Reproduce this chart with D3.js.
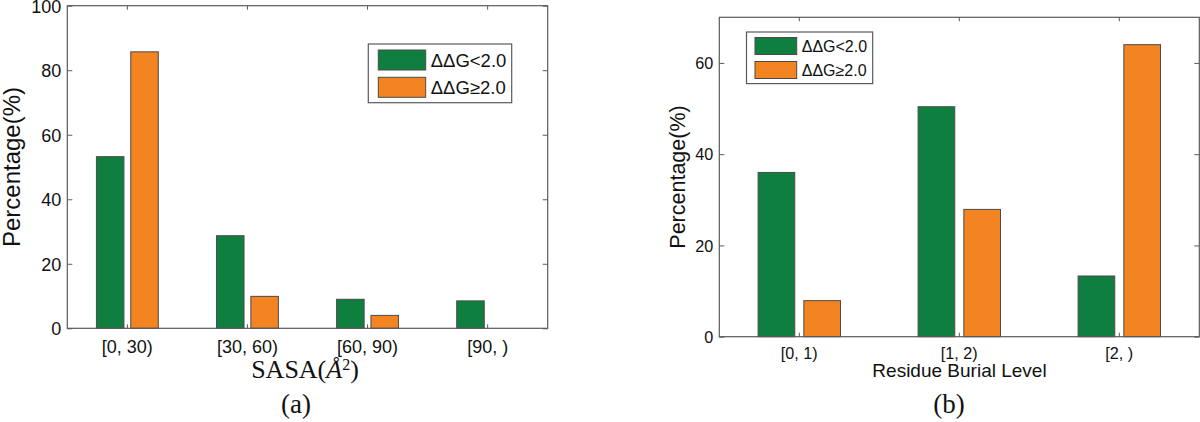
<!DOCTYPE html>
<html>
<head>
<meta charset="utf-8">
<script src="https://cdnjs.cloudflare.com/ajax/libs/d3/7.8.5/d3.min.js"></script>
<style>
  body { margin: 0; background: #fff; }
  svg { display: block; font-family: "Liberation Sans", Arial, Helvetica, sans-serif; }
  .axis path.domain { display: none; }
  .axis line { stroke: #5a5a5a; }
  .axis text { fill: #111; }
</style>
</head>
<body>
<svg id="figure"></svg>
<script>
// --- data ---
const seriesLabels = ['\u0394\u0394G<2.0', '\u0394\u0394G\u22652.0'];
const seriesColors = ['#0f7f3f', '#f48422'];

const sasaCategories = ['[0, 30)', '[30, 60)', '[60, 90)', '[90, )'];
const sasaLow = [53.2, 28.7, 9.0, 8.5];
const sasaHigh = [85.7, 9.9, 4.0, 0];
const sasaTicks = [0, 20, 40, 60, 80, 100];

const burialCategories = ['[0, 1)', '[1, 2)', '[2, )'];
const burialLow = [36.0, 50.4, 13.3];
const burialHigh = [7.9, 27.9, 64.0];
const burialTicks = [0, 20, 40, 60];

class GroupedBars {
    /**
     * Grouped bar chart, drawn like a Matlab bar() figure
     * @param {Object} _config
     * @param {Object} _data
     */
    constructor(_config, _data) {
        this.config = {
            parentElement: _config.parentElement,
            left: _config.left,
            top: _config.top,
            width: _config.width,
            height: _config.height,
            yMax: _config.yMax,
            yTicks: _config.yTicks,
            fontSize: _config.fontSize || 16,
            yLabelSize: _config.yLabelSize || 22,
            yLabelOffset: _config.yLabelOffset || 50,
            tickLabelOffset: _config.tickLabelOffset || 17,
            legend: _config.legend
        }
        this.data = _data;
        this.initVis();
    }

    initVis() {
        let vis = this;

        vis.width = vis.config.width;
        vis.height = vis.config.height;

        vis.xScale = d3.scaleBand()
            .range([0, vis.width])
            .padding(0);

        vis.yScale = d3.scaleLinear()
            .range([vis.height, 0]);

        vis.chart = d3.select(vis.config.parentElement)
            .attr('transform', `translate(${vis.config.left},${vis.config.top})`);

        // ticks point inward on all four sides, Matlab style
        vis.xAxis = d3.axisBottom(vis.xScale).tickSizeInner(-4).tickSizeOuter(0);
        vis.xAxisTop = d3.axisTop(vis.xScale).tickSizeInner(-4).tickSizeOuter(0).tickFormat('');
        vis.yAxis = d3.axisLeft(vis.yScale).tickSizeInner(-5).tickSizeOuter(0).tickPadding(6);
        vis.yAxisRight = d3.axisRight(vis.yScale).tickSizeInner(-5).tickSizeOuter(0).tickFormat('');

        vis.barsG = vis.chart.append('g');

        vis.xAxisG = vis.chart.append('g')
            .attr('class', 'axis x-axis')
            .attr('transform', `translate(0,${vis.height})`);
        vis.xAxisTopG = vis.chart.append('g').attr('class', 'axis');
        vis.yAxisG = vis.chart.append('g').attr('class', 'axis y-axis');
        vis.yAxisRightG = vis.chart.append('g')
            .attr('class', 'axis')
            .attr('transform', `translate(${vis.width},0)`);

        vis.chart.append('rect')
            .attr('width', vis.width)
            .attr('height', vis.height)
            .attr('fill', 'none')
            .attr('stroke', '#5a5a5a')
            .attr('stroke-width', 1.2);

        vis.chart.append('text')
            .attr('transform', `translate(${-vis.config.yLabelOffset},${vis.height / 2}) rotate(-90)`)
            .attr('text-anchor', 'middle')
            .attr('dominant-baseline', 'central')
            .attr('font-size', vis.config.yLabelSize)
            .attr('fill', '#111')
            .text('Percentage(%)');

        vis.updateVis();
    }

    updateVis() {
        let vis = this;

        vis.xScale.domain(vis.data.categories);
        vis.yScale.domain([0, vis.config.yMax]);
        vis.yAxis.tickValues(vis.config.yTicks);
        vis.yAxisRight.tickValues(vis.config.yTicks);

        // Matlab grouped bar geometry: bar width 0.229, offsets +-0.143 of a group slot
        vis.barWidth = 0.229 * vis.xScale.bandwidth();
        vis.barOffsets = [-0.143, 0.143].map(o => o * vis.xScale.bandwidth());

        vis.flat = [];
        vis.data.series.forEach((s, si) => {
            s.forEach((v, ci) => {
                if (v > 0) vis.flat.push({ cat: vis.data.categories[ci], value: v, series: si });
            });
        });

        vis.renderVis();
    }

    renderVis() {
        let vis = this;
        const bw = vis.xScale.bandwidth();

        vis.barsG.selectAll('.bar')
            .data(vis.flat)
            .join('rect')
            .attr('class', 'bar')
            .attr('x', d => vis.xScale(d.cat) + bw / 2 + vis.barOffsets[d.series] - vis.barWidth / 2)
            .attr('width', vis.barWidth)
            .attr('y', d => vis.yScale(d.value))
            .attr('height', d => vis.height - vis.yScale(d.value))
            .attr('fill', d => seriesColors[d.series])
            .attr('stroke', '#4a4a4a')
            .attr('stroke-width', 1);

        vis.xAxisG.call(vis.xAxis);
        vis.xAxisG.selectAll('text')
            .attr('y', vis.config.tickLabelOffset)
            .attr('dy', '0.35em')
            .attr('font-size', vis.config.fontSize);
        vis.xAxisTopG.call(vis.xAxisTop);

        vis.yAxisG.call(vis.yAxis);
        vis.yAxisG.selectAll('text')
            .attr('dy', '0.35em')
            .attr('font-size', vis.config.fontSize);
        vis.yAxisRightG.call(vis.yAxisRight);

        // legend
        const lg = vis.config.legend;
        const legend = vis.chart.append('g')
            .attr('transform', `translate(${lg.x},${lg.y})`);
        legend.append('rect')
            .attr('width', lg.w)
            .attr('height', lg.h)
            .attr('fill', '#fff')
            .attr('stroke', '#5a5a5a')
            .attr('stroke-width', 1.2);
        seriesLabels.forEach((label, i) => {
            const yy = lg.pad + i * lg.step;
            legend.append('rect')
                .attr('x', lg.swX)
                .attr('y', yy)
                .attr('width', lg.swW)
                .attr('height', lg.swH)
                .attr('fill', seriesColors[i])
                .attr('stroke', '#4a4a4a');
            legend.append('text')
                .attr('x', lg.swX + lg.swW + 5)
                .attr('y', yy + lg.swH / 2)
                .attr('dominant-baseline', 'central')
                .attr('font-size', lg.fontSize)
                .attr('fill', '#111')
                .text(label);
        });
    }
};

const svg = d3.select('#figure')
    .attr('width', 1200)
    .attr('height', 422);

svg.append('g').attr('id', 'chartA');
svg.append('g').attr('id', 'chartB');

new GroupedBars({
    parentElement: '#chartA',
    left: 67.3, top: 5.7, width: 480.4, height: 322.6,
    yMax: 100, yTicks: sasaTicks,
    fontSize: 18, yLabelSize: 24, yLabelOffset: 55.5, tickLabelOffset: 18,
    legend: { x: 301, y: 38.3, w: 143.4, h: 58.7, pad: 6, step: 27.3, swX: 10, swW: 47.4, swH: 20, fontSize: 18.5 }
}, { categories: sasaCategories, series: [sasaLow, sasaHigh] });

new GroupedBars({
    parentElement: '#chartB',
    left: 719.3, top: 17.3, width: 480, height: 319.4,
    yMax: 70, yTicks: burialTicks,
    fontSize: 16.2, yLabelSize: 21.5, yLabelOffset: 41, tickLabelOffset: 17,
    legend: { x: 27.2, y: 14.7, w: 126.2, h: 51.6, pad: 5.5, step: 24, swX: 8.5, swW: 41.7, swH: 17, fontSize: 16 }
}, { categories: burialCategories, series: [burialLow, burialHigh] });

// x-axis titles and panel captions
const sasaTitle = svg.append('text')
    .attr('x', 305)
    .attr('y', 378)
    .attr('text-anchor', 'middle')
    .attr('font-family', '"Liberation Serif", "Times New Roman", serif')
    .attr('font-size', 26)
    .attr('fill', '#111');
sasaTitle.append('tspan').text('SASA(');
sasaTitle.append('tspan').attr('font-style', 'italic').text('\u00C5');
sasaTitle.append('tspan').attr('font-size', 16).attr('dy', -8).text('2');
sasaTitle.append('tspan').attr('dy', 8).text(')');

svg.append('text')
    .attr('x', 959.5)
    .attr('y', 377)
    .attr('text-anchor', 'middle')
    .attr('font-size', 19)
    .attr('fill', '#111')
    .text('Residue Burial Level');

[['(a)', 296], ['(b)', 949]].forEach(([t, x]) => {
    svg.append('text')
        .attr('x', x)
        .attr('y', 413)
        .attr('text-anchor', 'middle')
        .attr('font-family', '"Liberation Serif", "Times New Roman", serif')
        .attr('font-size', 27)
        .attr('fill', '#111')
        .text(t);
});
</script>
</body>
</html>
